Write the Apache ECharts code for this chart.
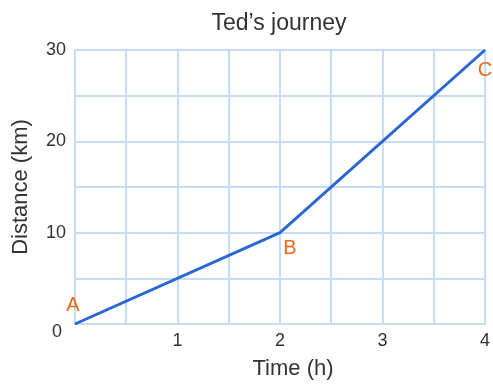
<!DOCTYPE html>
<html>
<head>
<meta charset="utf-8">
<script src="https://cdn.jsdelivr.net/npm/echarts@6/dist/echarts.min.js"></script>
<style>
  html, body { margin: 0; padding: 0; background: #fff; }
  #chart { width: 493px; height: 385px; }
</style>
</head>
<body>
<div id="chart"></div>
<script>
// journey data
var times = [0, 2, 4];
var distances = [0, 10, 30];
var pointNames = ['A', 'B', 'C'];
var xTicks = [1, 2, 3, 4];
var yTicks = [0, 10, 20, 30];

var gridColor = '#c8dbf6';
var lineColor = '#2a66d4';
var textColor = '#333';
var font = '"Liberation Sans", Arial, sans-serif';

// label placement for A, B, C
var labelPos = [
  { position: 'top', offset: [-2, -3] },
  { position: 'bottom', offset: [10, 0] },
  { position: 'bottom', offset: [0, 5] }
];

var points = times.map(function (t, i) {
  return {
    value: [t, distances[i]],
    label: {
      show: true,
      formatter: pointNames[i],
      position: labelPos[i].position,
      offset: labelPos[i].offset,
      color: '#ea6a1c',
      fontSize: 20,
      fontFamily: font
    }
  };
});

var myChart = echarts.init(document.getElementById('chart'));

var option = {
  animation: false,
  title: {
    text: 'Ted\u2019s journey',
    left: 274,
    top: 7,
    textAlign: 'center',
    textStyle: { fontSize: 23, fontWeight: 'normal', color: textColor, fontFamily: font }
  },
  grid: { left: 75, right: 8, top: 50, bottom: 60 },
  xAxis: {
    type: 'value',
    min: 0,
    max: 4,
    interval: 0.5,
    name: 'Time (h)',
    nameLocation: 'middle',
    nameGap: 34,
    nameTextStyle: { fontSize: 22, color: textColor, fontFamily: font, padding: [0, 0, 0, 26] },
    axisLine: { lineStyle: { color: gridColor, width: 2 } },
    axisTick: { show: false },
    splitLine: { lineStyle: { color: gridColor, width: 2 } },
    axisLabel: {
      fontSize: 18,
      color: textColor,
      fontFamily: font,
      margin: 8,
      formatter: function (v) { return xTicks.indexOf(v) >= 0 ? String(v) : ''; }
    }
  },
  yAxis: {
    type: 'value',
    min: 0,
    max: 30,
    interval: 5,
    name: 'Distance (km)',
    nameLocation: 'middle',
    nameGap: 43,
    nameTextStyle: { fontSize: 22, color: textColor, fontFamily: font },
    axisLine: { show: true, lineStyle: { color: gridColor, width: 2 } },
    axisTick: { show: false },
    splitLine: { lineStyle: { color: gridColor, width: 2 } },
    axisLabel: {
      fontSize: 18,
      color: textColor,
      fontFamily: font,
      margin: 9,
      formatter: function (v) {
        if (yTicks.indexOf(v) < 0) return '';
        return v === 0 ? '{z|0}' : String(v);
      },
      rich: { z: { fontSize: 18, color: textColor, fontFamily: font, padding: [16, 4, 0, 0] } }
    }
  },
  series: [{
    type: 'line',
    data: points,
    showSymbol: true,
    symbol: 'circle',
    symbolSize: 1,
    itemStyle: { color: lineColor },
    lineStyle: { color: lineColor, width: 3 }
  }]
};

myChart.setOption(option);
</script>
</body>
</html>
